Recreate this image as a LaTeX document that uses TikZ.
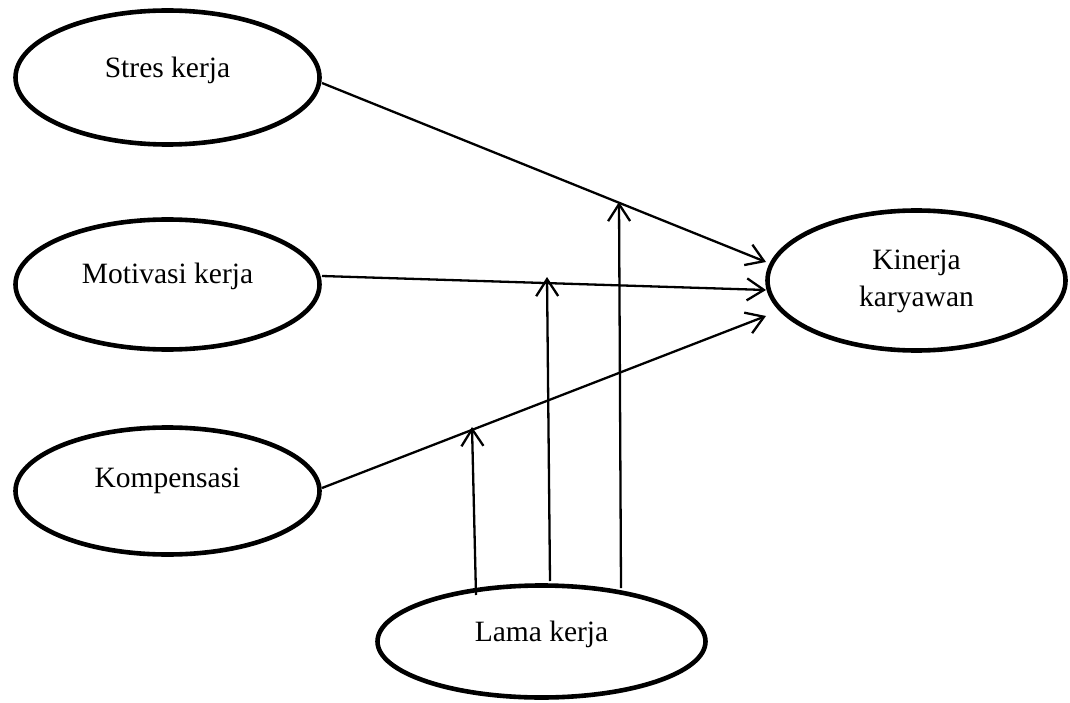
\documentclass[tikz,border=0pt]{standalone}
\usepackage{fontspec}
\setmainfont{Liberation Serif}
\usetikzlibrary{arrows.meta,shapes.geometric}
\begin{document}
\begin{tikzpicture}[x=1pt,y=-1pt,
  oval/.style={draw, ellipse, line width=4.6pt, inner sep=0pt},
  lbl/.style={font=\fontsize{29.5}{37}\selectfont, align=center},
  arr/.style={line width=2.3pt, -{Straight Barb[length=17pt,width=22pt,line width=2.3pt]}}]
\useasboundingbox (0,0) rectangle (1070,703);
% ellipses
\node[oval, minimum width=304pt, minimum height=134pt] (s) at (167.5,77.5) {};
\node[oval, minimum width=304pt, minimum height=130pt] (m) at (167.5,284.5) {};
\node[oval, minimum width=304pt, minimum height=127pt] (c) at (167.5,491) {};
\node[oval, minimum width=298pt, minimum height=140pt] (k) at (916.5,280.5) {};
\node[oval, minimum width=328pt, minimum height=112pt] (l) at (541.5,641.5) {};
% labels
\node[lbl] at (167.5,70) {Stres kerja};
\node[lbl] at (167.5,276) {Motivasi kerja};
\node[lbl] at (167.5,481) {Kompensasi};
\node[lbl] at (916.5,281) {Kinerja\\karyawan};
\node[lbl] at (541.5,634) {Lama kerja};
% connector endpoints
\coordinate (s1) at (322,83);
\coordinate (m1) at (322,276);
\coordinate (c1) at (322,488);
\coordinate (k1) at (766,262);
\coordinate (k2) at (766,290);
\coordinate (k3) at (766,316);
\coordinate (l1) at (476,595);
\coordinate (l2) at (550,581);
\coordinate (l3) at (621,588);
\coordinate (t1) at (472,427);
\coordinate (t2) at (547,277);
\coordinate (t3) at (619,202);
% arrows
\draw[arr] (s1) -- (k1);
\draw[arr] (m1) -- (k2);
\draw[arr] (c1) -- (k3);
\draw[arr] (l1) -- (t1);
\draw[arr] (l2) -- (t2);
\draw[arr] (l3) -- (t3);
\end{tikzpicture}
\end{document}
